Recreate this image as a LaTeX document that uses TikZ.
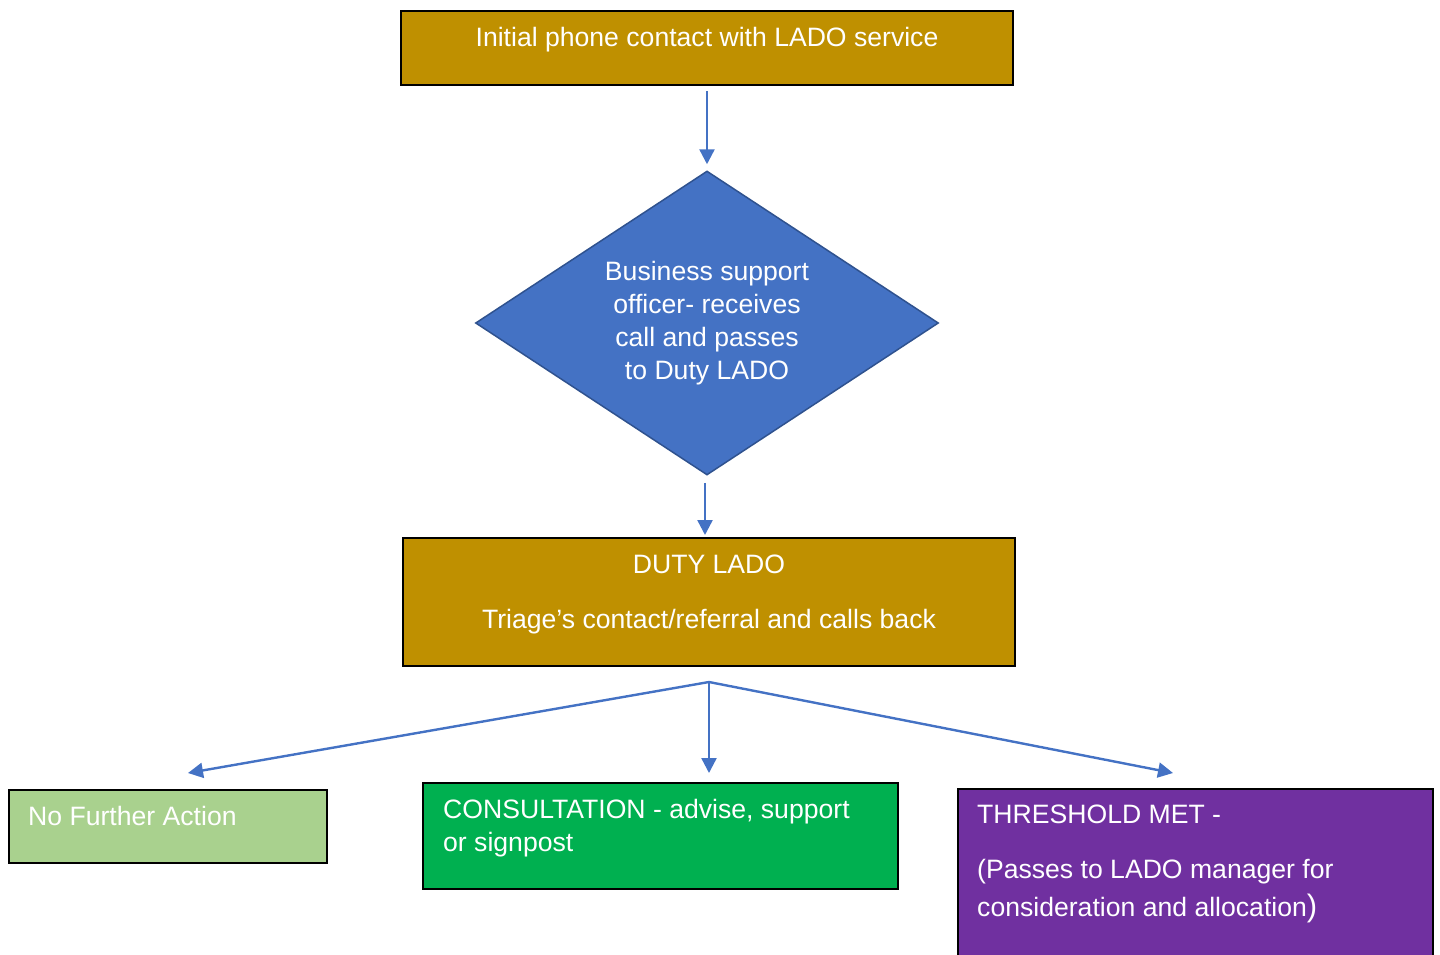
\documentclass[tikz,border=0pt]{standalone}
\usepackage{fontspec}
\setmainfont{Liberation Sans}
\usetikzlibrary{shapes.geometric,arrows.meta}
\definecolor{gold}{HTML}{BF9000}
\definecolor{dblue}{HTML}{4472C4}
\definecolor{dedge}{HTML}{2F528F}
\definecolor{lgreen}{HTML}{A9D18E}
\definecolor{mgreen}{HTML}{00B050}
\definecolor{purp}{HTML}{7030A0}
\begin{document}
\begin{tikzpicture}[x=1pt,y=-1pt,
  box/.style={draw=black,line width=2pt,rectangle,inner sep=0pt},
  txt/.style={text=white,font=\fontsize{26.6}{33}\selectfont,inner sep=0pt},
  arr/.style={draw=dblue,line width=2.4pt,-{Triangle[length=15pt,width=15pt]}}]
\useasboundingbox (0,0) rectangle (1440,954);
% boxes
\node[box,fill=gold,minimum width=612,minimum height=74] (top) at (707,48) {};
\node[txt,anchor=base] (toptxt) at (707,46) {Initial phone contact with LADO service};
\node[diamond,draw=dedge,line width=1.5pt,fill=dblue,minimum width=463,minimum height=304,aspect=1.52,inner sep=0pt,
  text=white,align=center,font=\fontsize{26.6}{33}\selectfont] (dia) at (707,323)
  {Business support\\officer- receives\\call and passes\\to Duty LADO};
\node[box,fill=gold,minimum width=612,minimum height=128] (duty) at (709,602) {};
\node[txt,anchor=base] (dutyt1) at (709,573) {DUTY LADO};
\node[txt,anchor=base] (dutyt2) at (709,628) {Triage’s contact/referral and calls back};
\node[box,fill=lgreen,minimum width=318,minimum height=73] (nfa) at (168,826.5) {};
\node[txt,anchor=base west] (nfat) at (28,825) {No Further Action};
\node[box,fill=mgreen,minimum width=475,minimum height=106] (cons) at (660.5,836) {};
\node[txt,anchor=base west,align=left] (const) at (443,851) {CONSULTATION - advise, support\\or signpost};
\node[box,fill=purp,minimum width=475,minimum height=172,anchor=north west] (thr) at (957,788) {};
\node[txt,anchor=base west] (thr1) at (977,823) {THRESHOLD MET -};
\node[txt,anchor=base west] (thr2) at (977,878) {(Passes to LADO manager for};
\node[txt,anchor=base west] (thr3) at (977,916) {consideration and allocation{\fontsize{31}{33}\selectfont)}};
% connectors
\coordinate (split) at (709,682);
\coordinate (tipN) at (188,773);
\coordinate (tipC) at (709,773);
\coordinate (tipT) at (1173,773);
\draw[arr,shorten <=5pt,shorten >=6pt] (top.south) -- (dia.north);
\draw[arr,shorten <=7pt,shorten >=2pt] ([xshift=-2pt]dia.south) -- ([xshift=-4pt]duty.north);
\draw[arr] (split) -- (tipN);
\draw[arr] (split) -- (tipC);
\draw[arr] (split) -- (tipT);
\end{tikzpicture}
\end{document}
